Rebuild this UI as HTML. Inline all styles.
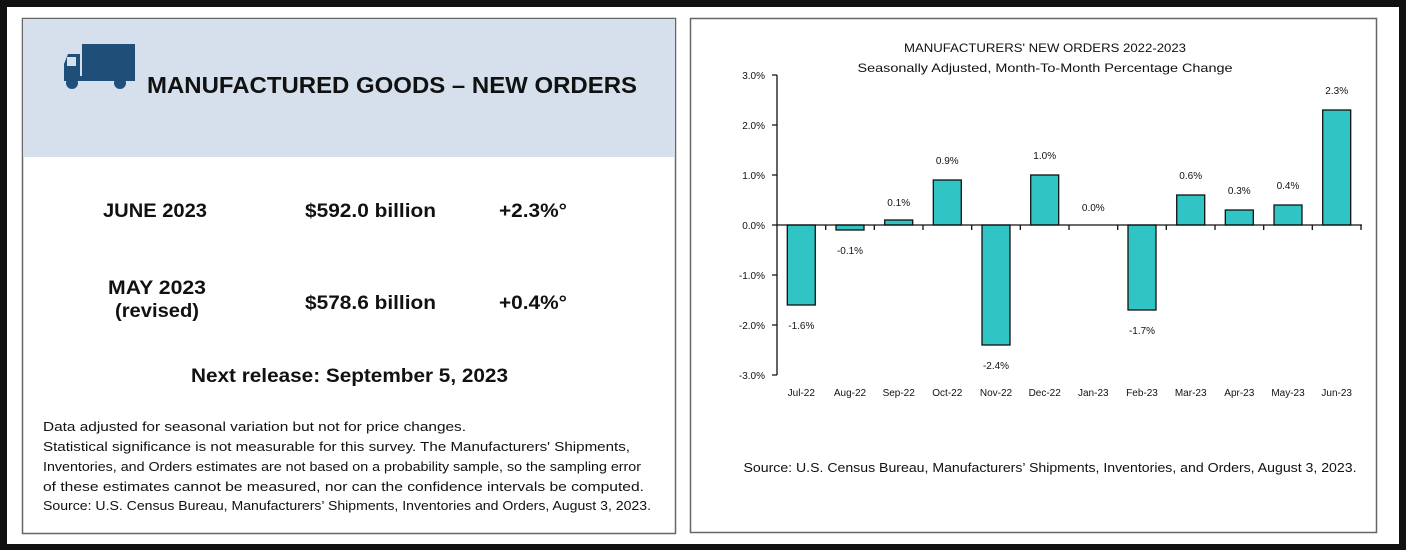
<!DOCTYPE html>
<html><head><meta charset="utf-8"><style>
html,body{margin:0;padding:0;background:#111;}
svg{display:block;font-family:"Liberation Sans",sans-serif;}
</style></head><body>
<svg width="1406" height="550" viewBox="0 0 1406 550" xmlns="http://www.w3.org/2000/svg">
<rect x="0" y="0" width="1406" height="550" fill="#111"/>
<rect x="7" y="7" width="1392" height="537" fill="#fff"/>
<!-- left panel -->
<rect x="22.5" y="18.5" width="653" height="515" fill="#fff" stroke="#666" stroke-width="1.5"/>
<rect x="23" y="19" width="652" height="138" fill="#d5e0ec"/>
<!-- truck -->
<g fill="#1f4e79">
<rect x="82" y="44" width="53" height="36"/>
<path d="M64 80 L64 64 L68 54 L80 54 L80 80 Z"/>
<rect x="64" y="76" width="71" height="5"/>
<circle cx="72" cy="83" r="6"/><circle cx="120" cy="83" r="6"/>
</g>
<rect x="67" y="57" width="9" height="9" fill="#d5e0ec"/>
<text x="147" y="93" font-size="23" font-weight="bold" textLength="490" lengthAdjust="spacingAndGlyphs" fill="#111">MANUFACTURED GOODS – NEW ORDERS</text>
<g font-size="19" font-weight="bold" fill="#111">
<text x="155" y="217" text-anchor="middle" textLength="104" lengthAdjust="spacingAndGlyphs">JUNE 2023</text>
<text x="305" y="217" textLength="131" lengthAdjust="spacingAndGlyphs">$592.0 billion</text>
<text x="499" y="217" textLength="68" lengthAdjust="spacingAndGlyphs">+2.3%°</text>
<text x="157" y="294" text-anchor="middle" textLength="98" lengthAdjust="spacingAndGlyphs">MAY 2023</text>
<text x="157" y="317" text-anchor="middle" textLength="84" lengthAdjust="spacingAndGlyphs">(revised)</text>
<text x="305" y="309" textLength="131" lengthAdjust="spacingAndGlyphs">$578.6 billion</text>
<text x="499" y="309" textLength="68" lengthAdjust="spacingAndGlyphs">+0.4%°</text>
<text x="191" y="382" textLength="317" lengthAdjust="spacingAndGlyphs">Next release: September 5, 2023</text>
</g>
<g font-size="13" fill="#111">
<text x="43" y="431" textLength="423" lengthAdjust="spacingAndGlyphs">Data adjusted for seasonal variation but not for price changes.</text>
<text x="43" y="451" textLength="587" lengthAdjust="spacingAndGlyphs">Statistical significance is not measurable for this survey.  The Manufacturers' Shipments,</text>
<text x="43" y="471" textLength="598" lengthAdjust="spacingAndGlyphs">Inventories, and Orders estimates are not based on a probability sample, so the sampling error</text>
<text x="43" y="491" textLength="601" lengthAdjust="spacingAndGlyphs">of these estimates cannot be measured, nor can the confidence intervals be computed.</text>
<text x="43" y="510" textLength="608" lengthAdjust="spacingAndGlyphs">Source: U.S. Census Bureau, Manufacturers’ Shipments, Inventories and Orders, August 3, 2023.</text>
</g>
<!-- right panel -->
<rect x="690.5" y="18.5" width="686" height="514" fill="#fff" stroke="#666" stroke-width="1.5"/>
<g font-size="12" fill="#111" text-anchor="middle">
<text x="1045" y="52" textLength="282" lengthAdjust="spacingAndGlyphs">MANUFACTURERS' NEW ORDERS 2022-2023</text>
<text x="1045" y="72" textLength="375" lengthAdjust="spacingAndGlyphs">Seasonally Adjusted,  Month-To-Month Percentage Change</text>
</g>
<g font-size="10" fill="#111" text-anchor="end">
<text x="765" y="79">3.0%</text><text x="765" y="129">2.0%</text><text x="765" y="179">1.0%</text>
<text x="765" y="229">0.0%</text><text x="765" y="279">-1.0%</text><text x="765" y="329">-2.0%</text><text x="765" y="379">-3.0%</text>
</g>
<g fill="#31c4c4" stroke="#111" stroke-width="1.3">
<rect x="787.3" y="225" width="28" height="80"/>
<rect x="836" y="225" width="28" height="5"/>
<rect x="884.7" y="220" width="28" height="5"/>
<rect x="933.3" y="180" width="28" height="45"/>
<rect x="982" y="225" width="28" height="120"/>
<rect x="1030.7" y="175" width="28" height="50"/>
<rect x="1128" y="225" width="28" height="85"/>
<rect x="1176.7" y="195" width="28" height="30"/>
<rect x="1225.3" y="210" width="28" height="15"/>
<rect x="1274" y="205" width="28" height="20"/>
<rect x="1322.7" y="110" width="28" height="115"/>
</g>
<g stroke="#111" stroke-width="1.3" fill="none">
<path d="M777 75 V375 M772 75 H777 M772 125 H777 M772 175 H777 M772 225 H777 M772 275 H777 M772 325 H777 M772 375 H777"/>
<path d="M777 225 H1362"/>
<path d="M825.7 225 v5 M874.3 225 v5 M923 225 v5 M971.7 225 v5 M1020.3 225 v5 M1069 225 v5 M1117.7 225 v5 M1166.3 225 v5 M1215 225 v5 M1263.7 225 v5 M1312.3 225 v5 M1361 225 v5"/>
</g>
<g font-size="10" fill="#111" text-anchor="middle">
<text x="801.3" y="329">-1.6%</text><text x="850" y="254">-0.1%</text><text x="898.7" y="206">0.1%</text>
<text x="947.3" y="164">0.9%</text><text x="996" y="369">-2.4%</text><text x="1044.7" y="159">1.0%</text>
<text x="1093.3" y="211">0.0%</text><text x="1142" y="334">-1.7%</text><text x="1190.7" y="179">0.6%</text>
<text x="1239.3" y="194">0.3%</text><text x="1288" y="189">0.4%</text><text x="1336.7" y="94">2.3%</text>
<text x="801.3" y="396">Jul-22</text><text x="850" y="396">Aug-22</text><text x="898.7" y="396">Sep-22</text>
<text x="947.3" y="396">Oct-22</text><text x="996" y="396">Nov-22</text><text x="1044.7" y="396">Dec-22</text>
<text x="1093.3" y="396">Jan-23</text><text x="1142" y="396">Feb-23</text><text x="1190.7" y="396">Mar-23</text>
<text x="1239.3" y="396">Apr-23</text><text x="1288" y="396">May-23</text><text x="1336.7" y="396">Jun-23</text>
</g>
<text x="1050" y="472" font-size="13" fill="#111" text-anchor="middle" textLength="613" lengthAdjust="spacingAndGlyphs">Source: U.S. Census Bureau, Manufacturers’ Shipments, Inventories, and Orders, August 3, 2023.</text>
</svg>
</body></html>
